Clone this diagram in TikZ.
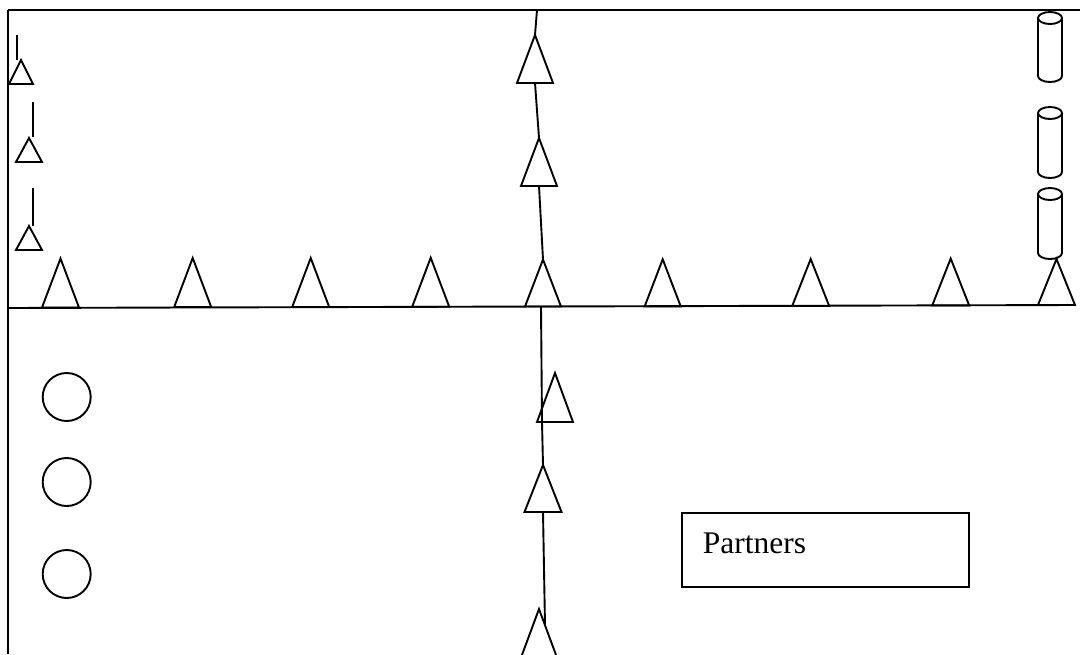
\documentclass[tikz,border=0pt]{standalone}
\usepackage{fontspec}
\setmainfont{Liberation Serif}
\usetikzlibrary{calc}
\tikzset{
  lw/.style={line width=1.9pt},
  % triangle standing on its base; origin = middle of the base
  pics/tri/.style 2 args={code={
    \draw[lw, line join=miter] (-#1/2,0) -- (0,-#2) -- (#1/2,0) -- cycle;
    \coordinate (-apex) at (0,-#2);
    \coordinate (-base) at (0,0);
  }},
  % upright cylinder; origin = top middle
  pics/cyl/.style={code={
    \draw[lw] (0,6) ellipse [x radius=12pt, y radius=6pt];
    \draw[lw] (-12,6) -- (-12,#1-6) arc[start angle=180, end angle=360, x radius=12pt, y radius=6pt] -- (12,6);
    \coordinate (-bottom) at (0,#1);
  }},
  ring/.style={draw, lw, circle, minimum size=48pt, inner sep=0pt},
  label box/.style={draw, lw, anchor=north west, minimum width=287pt, minimum height=74pt,
    inner xsep=21pt, inner ysep=0pt, text width=245pt, align=left,
    text height=20pt, text depth=12pt, font=\fontsize{31.5}{36}\selectfont},
}
\begin{document}
\begin{tikzpicture}[x=1pt, y=-1pt]
\useasboundingbox (0,0) rectangle (1080,654);
\clip (0,0) rectangle (1080,654);

% frame lines
\coordinate (tl) at (8,10);
\coordinate (tr) at (1080,10);
\coordinate (bl) at (8,654);
\coordinate (ml) at (8,308);
\coordinate (mr) at (1075,305);
\draw[lw] (tl) -- (tr);
\draw[lw] (tl) -- (bl);
\draw[lw] (ml) -- (mr);

% small triangles on the left
\pic (s1) at (21,84) {tri={24}{24}};
\pic (s2) at (29,162) {tri={26}{24}};
\pic (s3) at (29,250) {tri={26}{24}};
\coordinate (s1a) at (17,35); \coordinate (s1b) at (17,60);
\coordinate (s2a) at (33,102); \coordinate (s2b) at (33,137);
\coordinate (s3a) at (33,188); \coordinate (s3b) at (33,226);
\draw[lw] (s1a) -- (s1b);
\draw[lw] (s2a) -- (s2b);
\draw[lw] (s3a) -- (s3b);

% triangles along the middle line
\pic (h1) at (60.5,307.5) {tri={37}{49}};
\pic (h2) at (192.7,307) {tri={37}{49}};
\pic (h3) at (310.7,307) {tri={37}{49}};
\pic (h4) at (430.7,306.7) {tri={37}{49}};
\pic (h5) at (543,306.5) {tri={36}{47}};
\pic (h6) at (662.7,306.3) {tri={36}{47}};
\pic (h7) at (810.7,306) {tri={37}{47}};
\pic (h8) at (950.7,305.5) {tri={37}{47}};
\pic (h9) at (1056.5,305) {tri={37}{46}};

% cylinders on the right
\pic (c1) at (1050,12) {cyl=70};
\pic (c2) at (1050,107) {cyl=71};
\pic (c3) at (1050,188) {cyl=71};

% vertical chain of triangles
\coordinate (vtop) at (537,10);
\pic (v1) at (535,83) {tri={36}{48}};
\pic (v2) at (539,186) {tri={36}{48}};
\pic (v4) at (555,422) {tri={36}{49}};
\pic (v5) at (543,512) {tri={37}{47}};
\pic (v6) at (539,659) {tri={37}{50}};
\coordinate (vend) at (545,625);
\draw[lw] (vtop) -- (v1-apex);
\draw[lw] (v1-base) -- (v2-apex);
\draw[lw] (v2-base) -- (h5-apex);
\draw[lw] ($(h5-base)+(-2,0)$) -- ($(v4-base)+(-13,0)$);
\draw[lw] ($(v4-base)+(-13,0)$) -- (v5-apex);
\draw[lw] (v5-base) -- (vend);

% circles
\node[ring] (r1) at (66.7,397) {};
\node[ring] (r2) at (66.7,482) {};
\node[ring] (r3) at (66.7,574) {};

% labelled box
\node[label box] (partners) at (681,512) {Partners};
\end{tikzpicture}
\end{document}
